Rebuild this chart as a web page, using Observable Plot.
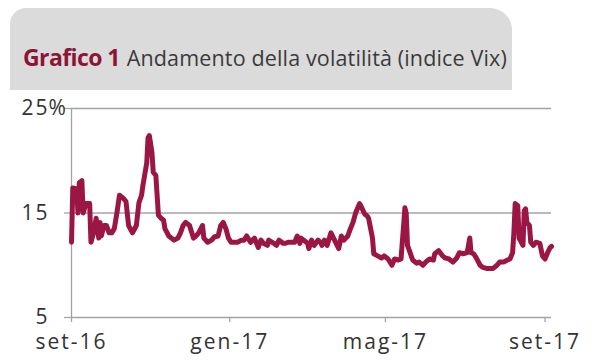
<!DOCTYPE html>
<html><head><meta charset="utf-8">
<script src="https://cdn.jsdelivr.net/npm/d3@7"></script>
<script src="https://cdn.jsdelivr.net/npm/@observablehq/plot@0.6"></script>
<style>
body{margin:0;background:#fff;font-family:"Open Sans",sans-serif;}
#wrap{position:relative;width:600px;height:360px;overflow:hidden;background:#fff;}
#head{position:absolute;left:10px;top:8px;width:502px;height:82px;background:#dbdbdb;border-radius:16px 22px 0 0;}
#title{position:absolute;left:23px;top:46px;line-height:1;white-space:nowrap;}
#title b{font-size:23px;color:#8c1537;font-weight:700;letter-spacing:-0.6px;}
#title span{font-size:21.5px;color:#3a3a3a;margin-left:7px;letter-spacing:0.15px;}
#chart{position:absolute;left:0;top:90px;}
</style></head>
<body>
<div id="wrap">
  <div id="head"></div>
  <div id="title"><b>Grafico 1</b><span>Andamento della volatilità (indice Vix)</span></div>
  <div id="chart"></div>
</div>
<script>
// Vix index (%)
const dates = [
"2016-09-01","2016-09-02","2016-09-05","2016-09-06","2016-09-07","2016-09-09","2016-09-10","2016-09-12","2016-09-13","2016-09-15",
"2016-09-16","2016-09-18","2016-09-20","2016-09-22","2016-09-23","2016-09-24","2016-09-26","2016-09-28","2016-09-30","2016-10-02",
"2016-10-04","2016-10-06","2016-10-08","2016-10-11","2016-10-13","2016-10-15","2016-10-18","2016-10-21","2016-10-23","2016-10-25",
"2016-10-26","2016-10-29","2016-10-30","2016-10-31","2016-11-02","2016-11-03","2016-11-05","2016-11-07","2016-11-09","2016-11-11",
"2016-11-12","2016-11-15","2016-11-19","2016-11-22","2016-11-24","2016-11-26","2016-11-28","2016-12-01","2016-12-04","2016-12-06",
"2016-12-08","2016-12-11","2016-12-12","2016-12-15","2016-12-18","2016-12-20","2016-12-23","2016-12-25","2016-12-27","2016-12-29",
"2016-12-31","2017-01-02","2017-01-04","2017-01-07","2017-01-10","2017-01-12","2017-01-14","2017-01-16","2017-01-17","2017-01-20",
"2017-01-23","2017-01-25","2017-01-27","2017-01-30","2017-01-31","2017-02-04","2017-02-06","2017-02-08","2017-02-11","2017-02-13",
"2017-02-15","2017-02-18","2017-02-20","2017-02-22","2017-02-24","2017-02-25","2017-03-02","2017-03-03","2017-03-05","2017-03-07",
"2017-03-10","2017-03-12","2017-03-13","2017-03-15","2017-03-17","2017-03-20","2017-03-22","2017-03-26","2017-03-28","2017-03-30",
"2017-04-02","2017-04-04","2017-04-06","2017-04-08","2017-04-11","2017-04-12","2017-04-15","2017-04-17","2017-04-18","2017-04-21",
"2017-04-22","2017-04-25","2017-04-28","2017-04-30","2017-05-03","2017-05-06","2017-05-08","2017-05-11","2017-05-13","2017-05-15",
"2017-05-16","2017-05-17","2017-05-18","2017-05-20","2017-05-22","2017-05-25","2017-05-27","2017-05-30","2017-06-01","2017-06-04",
"2017-06-07","2017-06-08","2017-06-11","2017-06-14","2017-06-16","2017-06-19","2017-06-22","2017-06-25","2017-06-27","2017-06-30",
"2017-07-03","2017-07-05","2017-07-06","2017-07-08","2017-07-10","2017-07-13","2017-07-15","2017-07-18","2017-07-20","2017-07-23",
"2017-07-26","2017-07-28","2017-07-31","2017-08-03","2017-08-05","2017-08-07","2017-08-08","2017-08-09","2017-08-11","2017-08-12",
"2017-08-15","2017-08-16","2017-08-17","2017-08-18","2017-08-20","2017-08-21","2017-08-23","2017-08-25","2017-08-28","2017-08-30",
"2017-09-01","2017-09-03","2017-09-05","2017-09-06"
];
const vix = [
12.2,17.4,17.3,15.0,17.9,18.1,15.0,15.9,15.9,15.9,
12.2,13.1,14.5,12.6,14.1,12.8,13.8,13.8,13.1,13.1,
13.5,15.0,16.7,16.4,16.1,13.8,13.1,13.8,16.0,16.7,
17.6,19.8,22.2,22.4,20.8,18.9,18.6,14.8,14.5,14.3,
13.5,12.8,12.4,12.6,13.1,13.8,14.1,13.8,12.6,12.8,
13.1,13.8,12.6,12.2,12.4,12.7,12.8,13.8,14.1,13.5,
12.6,12.2,12.2,12.2,12.4,12.4,12.8,12.4,12.2,12.6,
11.7,12.4,12.1,11.9,12.4,12.1,11.9,12.4,12.1,12.1,
12.2,12.2,12.2,12.8,12.1,12.6,12.1,11.6,12.4,11.9,
12.4,12.2,11.9,12.4,11.9,13.1,12.6,11.6,12.8,12.4,
12.8,13.5,14.1,15.0,15.9,15.7,14.9,14.7,14.5,12.6,
11.1,10.9,10.7,10.9,10.6,10.0,10.6,10.5,10.6,13.8,
15.5,15.0,11.9,11.2,10.5,10.2,10.3,10.0,10.3,10.6,
10.5,11.1,11.4,10.9,10.7,10.6,10.3,10.7,11.2,11.1,
11.2,12.6,11.2,11.1,10.7,10.0,9.8,9.7,9.7,9.7,
10.0,10.3,10.3,10.5,10.6,11.2,13.1,15.9,15.7,12.6,
11.9,15.2,15.4,14.1,13.8,12.2,11.9,12.2,12.1,10.9,
10.6,11.2,11.7,11.8
];
const xDomain = ["2016-09-01","2017-09-06"];
const xTicks = ["2016-09-01","2017-01-01","2017-05-01","2017-09-01"];
const xTickLabels = ["set-16","gen-17","mag-17","set-17"];
const yTicks = [5, 15, 25];
const yUnit = "%";

const parse = d3.utcParse("%Y-%m-%d");
const data = dates.map((d, i) => ({date: parse(d), value: vix[i]}));
const tickDates = xTicks.map(parse);
const labelOf = new Map(tickDates.map((d, i) => [+d, xTickLabels[i]]));

const grid = "#a3a3a3";
const plot = Plot.plot({
  width: 600,
  height: 270,
  marginLeft: 71,
  marginRight: 49,
  marginTop: 18,
  marginBottom: 43,
  style: {fontFamily: "Open Sans", fontSize: "21px", color: "#333", background: "transparent", letterSpacing: "2px"},
  x: {type: "utc", domain: xDomain.map(parse), label: null},
  y: {domain: [5, 25], label: null},
  marks: [
    Plot.gridY(yTicks, {stroke: grid, strokeOpacity: 1, strokeWidth: 1.3}),
    Plot.ruleX([tickDates[0]], {y1: 5, y2: 25, stroke: grid, strokeWidth: 1.3}),
    Plot.axisY(yTicks, {tickSize: 7, stroke: grid, strokeWidth: 1.3, tickFormat: () => "", label: null}),
    Plot.axisY(yTicks, {tickSize: 0, tickPadding: 22, fill: "#333", tickFormat: d => String(d), label: null}),
    Plot.text([yTicks[2]], {x: () => tickDates[0], y: d => d, text: () => yUnit, textAnchor: "start", dx: -23, fill: "#333"}),
    Plot.axisX(tickDates, {tickSize: 5, stroke: grid, strokeWidth: 1.3, tickFormat: () => "", label: null}),
    Plot.axisX(tickDates, {tickSize: 0, tickPadding: 17, fill: "#333", tickFormat: d => labelOf.get(+d), label: null}),
    Plot.line(data, {x: "date", y: "value", stroke: "#9b1644", strokeWidth: 5, strokeLinejoin: "round", strokeLinecap: "round"})
  ]
});
document.getElementById("chart").appendChild(plot);
</script>
</body></html>
